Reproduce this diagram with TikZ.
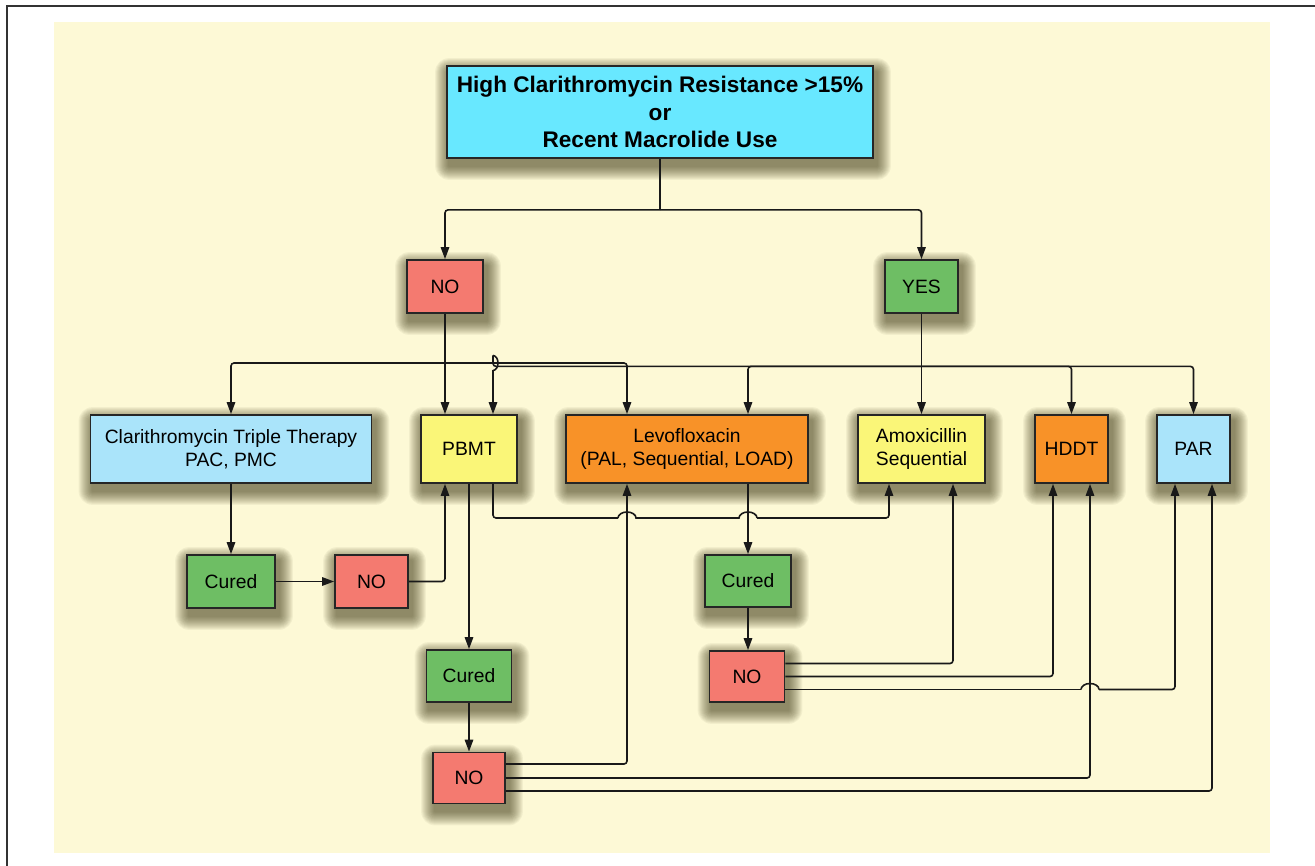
\documentclass[tikz,border=0pt]{standalone}
\usepackage{fontspec}
\setmainfont{Liberation Sans}
\usetikzlibrary{arrows.meta}
\definecolor{bgc}{RGB}{253,249,214}
\definecolor{cyanbox}{RGB}{104,232,255}
\definecolor{lblue}{RGB}{170,228,250}
\definecolor{nored}{RGB}{244,122,112}
\definecolor{grn}{RGB}{110,190,100}
\definecolor{ylw}{RGB}{250,246,120}
\definecolor{org}{RGB}{248,146,40}
\definecolor{shd}{RGB}{60,55,20}
\pgfdeclarelayer{bglayer}
\pgfdeclarelayer{shlayer}
\pgfsetlayers{bglayer,shlayer,main}
\tikzset{
  box/.style={draw=black!85, line width=1.8pt, align=center, inner sep=0pt,
    font=\fontsize{19.3}{23.5}\selectfont},
  conn/.style={draw=black!90, line width=1.6pt, rounded corners=3pt},
  arr/.style={conn, -{Triangle[length=12pt,width=8.5pt]}},
}
\newcommand{\boxshadow}[1]{%
  \foreach \i in {1,...,14}{%
    \fill[shd, opacity=0.055, rounded corners=\i pt]
      ([xshift=3pt-\i pt, yshift=-7pt-\i pt]#1.south west) rectangle
      ([xshift=3pt+\i pt, yshift=-7pt+\i pt]#1.north east);}}
\begin{document}
\begin{tikzpicture}[x=1pt,y=1pt]
\useasboundingbox (0,0) rectangle (1315,-866);
\begin{pgfonlayer}{bglayer}
\fill[white] (0,0) rectangle (1315,-866);
\fill[bgc] (54,-22) rectangle (1270,-853);
\draw[line width=1.5pt, black!80] (7,-866) -- (7,-6) -- (1315,-6);
\end{pgfonlayer}

% nodes
\node[box, fill=cyanbox, minimum width=426pt, minimum height=92pt,
  font=\fontsize{22.6}{27.5}\selectfont\bfseries] (top) at (660,-112)
  {High Clarithromycin Resistance >15\%\\or\\Recent Macrolide Use};
\node[box, fill=nored, minimum width=76pt, minimum height=53pt] (no0) at (445,-286.5) {NO};
\node[box, fill=grn, minimum width=73pt, minimum height=53pt] (yes) at (921.5,-286.5) {YES};

\node[box, fill=lblue, minimum width=281pt, minimum height=68pt] (ctt) at (231,-449)
  {Clarithromycin Triple Therapy\\PAC, PMC};
\node[box, fill=ylw, minimum width=96pt, minimum height=68pt] (pbmt) at (469,-449) {PBMT};
\node[box, fill=org, minimum width=242pt, minimum height=68pt] (levo) at (687,-449)
  {Levofloxacin\\(PAL, Sequential, LOAD)};
\node[box, fill=ylw, minimum width=127pt, minimum height=68pt] (amox) at (921.5,-449)
  {Amoxicillin\\Sequential};
\node[box, fill=org, minimum width=73pt, minimum height=68pt] (hddt) at (1071.5,-449) {HDDT};
\node[box, fill=lblue, minimum width=73pt, minimum height=68pt] (par) at (1193.5,-449) {PAR};

\node[box, fill=grn, minimum width=88pt, minimum height=53pt] (cured1) at (231,-581.5) {Cured};
\node[box, fill=nored, minimum width=73pt, minimum height=53pt] (no1) at (371.5,-581.5) {NO};
\node[box, fill=grn, minimum width=86pt, minimum height=52pt] (cured3) at (748,-581) {Cured};
\node[box, fill=grn, minimum width=85pt, minimum height=52pt] (cured2) at (469,-676) {Cured};
\node[box, fill=nored, minimum width=75pt, minimum height=51pt] (no3) at (747,-676.5) {NO};
\node[box, fill=nored, minimum width=72pt, minimum height=51pt] (no2) at (469,-778) {NO};

\begin{pgfonlayer}{shlayer}
\foreach \n in {top,no0,yes,ctt,pbmt,levo,amox,hddt,par,cured1,no1,cured3,cured2,no3,no2}{\boxshadow{\n}}
\end{pgfonlayer}

% top split
\draw[conn] (top.south) -- ++(0,-51) coordinate (j0);
\draw[arr] (j0) -| (no0.north);
\draw[arr] (j0) -| (yes.north);

% NO branch
\draw[arr] (no0.south) -- ([xshift=-24pt]pbmt.north);
\coordinate (j1) at (445,-363);
\draw[arr] (j1) -| (ctt.north);
\draw[arr] (j1) -| ([xshift=-60pt]levo.north);

% YES branch
\draw[conn] (yes.south) -- ++(0,-52.5) coordinate (j2);
\draw[arr] (j2) -- (amox.north);
\draw[arr] (j2) -| ([xshift=61pt]levo.north);
\draw[arr] (j2) -| (hddt.north);
\draw[arr] (j2) -| (par.north);
\coordinate (h1) at (493,-355.5);
\draw[conn] (j2) -| (h1);
\draw[conn, sharp corners] (h1) arc[start angle=90, end angle=-90, x radius=5pt, y radius=7.5pt] coordinate (h2);
\draw[arr] (h2) -- ([xshift=24pt]pbmt.north);

% left column
\draw[arr] (ctt.south) -- (cured1.north);
\draw[arr] (cured1.east) -- (no1.west);
\draw[arr] (no1.east) -| ([xshift=-24pt]pbmt.south);

% PBMT outputs
\draw[arr] (pbmt.south) -- (cured2.north);
\draw[arr] (cured2.south) -- (no2.north);
\coordinate (p1) at (493,-518);
\coordinate (p2) at (618,-518);
\coordinate (p3) at (739,-518);
\draw[conn] ([xshift=24pt]pbmt.south) -- (p1) -- (p2);
\draw[conn, sharp corners] (p2) arc[start angle=180, end angle=0, x radius=9pt, y radius=6pt] -- (p3)
  arc[start angle=180, end angle=0, x radius=9pt, y radius=6pt] coordinate (p4);
\draw[arr] (p4) -| ([xshift=-32.5pt]amox.south);

% Levofloxacin outputs
\draw[arr] ([xshift=61pt]levo.south) -- (cured3.north);
\draw[arr] (cured3.south) -- (cured3.south |- no3.north);

% NO3 outputs
\draw[arr] ([yshift=13pt]no3.east) -| ([xshift=31.5pt]amox.south);
\draw[arr] (no3.east) -| ([xshift=-18.5pt]hddt.south);
\coordinate (q1) at (1081,-689.5);
\draw[conn] ([yshift=-13pt]no3.east) -- (q1);
\draw[conn, sharp corners] (q1) arc[start angle=180, end angle=0, x radius=9pt, y radius=6pt] coordinate (q2);
\draw[arr] (q2) -| ([xshift=-18.5pt]par.south);

% NO2 outputs
\draw[arr] ([yshift=14pt]no2.east) -| ([xshift=-60pt]levo.south);
\draw[arr] (no2.east) -| ([xshift=18.5pt]hddt.south);
\draw[arr] ([yshift=-13pt]no2.east) -| ([xshift=18.5pt]par.south);
\end{tikzpicture}
\end{document}
